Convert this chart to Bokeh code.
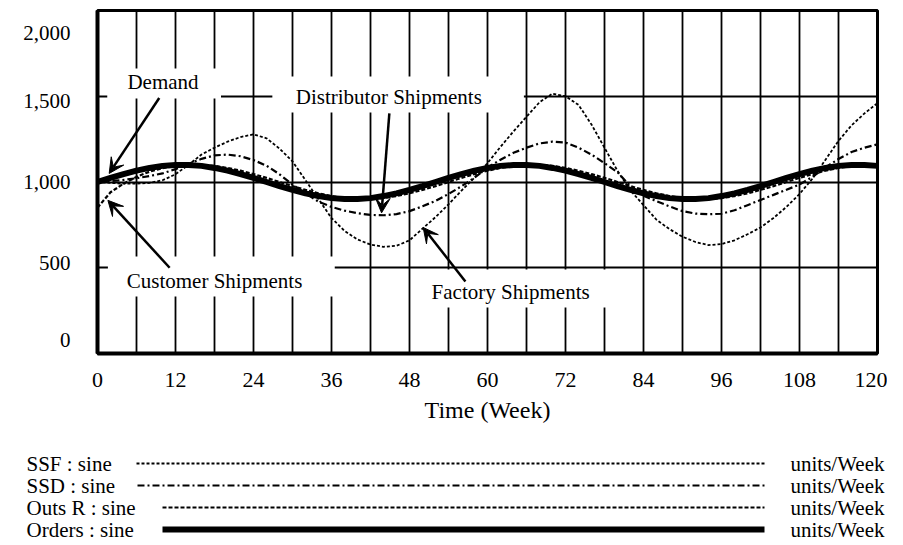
from bokeh.plotting import figure
from bokeh.models import FixedTicker, Range1d, Label, Arrow, VeeHead
from bokeh.embed import file_html
from bokeh.resources import INLINE
from bokeh.core.properties import value

# ---------------- data ----------------
weeks = [0, 2, 4, 6, 8, 10, 12, 14, 16, 18, 20, 22, 24, 26, 28, 30, 32, 34, 36, 38,
         40, 42, 44, 46, 48, 50, 52, 54, 56, 58, 60, 62, 64, 66, 68, 70, 72, 74, 76, 78,
         80, 82, 84, 86, 88, 90, 92, 94, 96, 98, 100, 102, 104, 106, 108, 110, 112, 114, 116, 118, 120]

# Orders : sine  (Demand)
orders = [1000, 1024, 1046, 1066, 1082, 1094, 1099, 1099, 1094, 1082, 1066, 1046, 1024, 1000, 976, 954,
          934, 918, 906, 901, 901, 906, 918, 934, 954, 976, 1000, 1024, 1046, 1066, 1082, 1094,
          1099, 1099, 1094, 1082, 1066, 1046, 1024, 1000, 976, 954, 934, 918, 906, 901, 901, 906,
          918, 934, 954, 976, 1000, 1024, 1046, 1066, 1082, 1094, 1099, 1099, 1094]

# Outs R : sine  (Customer Shipments)
outs_r = [850, 940, 990, 1030, 1060, 1080, 1094, 1099, 1099, 1094, 1082, 1066, 1046, 1024, 1000, 976,
          954, 934, 918, 906, 901, 901, 906, 918, 934, 954, 976, 1000, 1024, 1046, 1066, 1082,
          1094, 1099, 1099, 1094, 1082, 1066, 1046, 1024, 1000, 976, 954, 934, 918, 906, 901, 901,
          906, 918, 934, 954, 976, 1000, 1024, 1046, 1066, 1082, 1094, 1099, 1099]

# SSD : sine  (Distributor Shipments)
ssd = [1000, 1005, 1012, 1022, 1035, 1050, 1075, 1105, 1135, 1155, 1160, 1150, 1128, 1095, 1045, 985,
       935, 885, 855, 833, 818, 808, 806, 813, 830, 858, 890, 930, 975, 1025, 1085, 1130,
       1170, 1200, 1225, 1235, 1230, 1200, 1160, 1110, 1057, 975, 920, 888, 858, 830, 816, 812,
       815, 835, 865, 895, 925, 955, 985, 1030, 1085, 1134, 1175, 1200, 1220]

# SSF : sine  (Factory Shipments)
ssf = [1000, 995, 990, 990, 995, 1010, 1045, 1100, 1160, 1200, 1235, 1262, 1278, 1255, 1195, 1120,
       1010, 900, 790, 715, 665, 635, 622, 628, 660, 728, 795, 870, 950, 1025, 1110, 1205,
       1295, 1380, 1465, 1515, 1500, 1450, 1335, 1200, 1065, 950, 865, 780, 725, 681, 650, 632,
       638, 660, 695, 735, 790, 855, 930, 1020, 1130, 1240, 1330, 1400, 1460]

x_ticks = [0, 12, 24, 36, 48, 60, 72, 84, 96, 108, 120]
x_grid = [0, 6, 12, 18, 24, 30, 36, 42, 48, 54, 60, 66, 72, 78, 84, 90, 96, 102, 108, 114, 120]
y_grid = [0, 500, 1000, 1500, 2000]
y_tick_labels = ["0", "500", "1,000", "1,500", "2,000"]
# the original software spreads its value labels a little inside the frame
y_label_anchor = [80, 525, 1000, 1475, 1870]

legend_names = ["SSF : sine", "SSD : sine", "Outs R : sine", "Orders : sine"]
legend_units = "units/Week"

SERIF = "Liberation Serif"
W = 887

# ---------------- main chart ----------------
p = figure(frame_width=780, frame_height=343,
           min_border_left=97, min_border_right=10, min_border_top=10, min_border_bottom=86,
           x_range=Range1d(0, 120), y_range=Range1d(0, 2000),
           output_backend="svg", toolbar_location=None,
           background_fill_color="white", border_fill_color="white",
           outline_line_color="black", outline_line_width=3)

p.xgrid.ticker = FixedTicker(ticks=x_grid)
p.ygrid.ticker = FixedTicker(ticks=y_grid)
for g in (p.xgrid, p.ygrid):
    g.grid_line_color = "black"
    g.grid_line_width = 1.8
    g.grid_line_alpha = 1.0

p.xaxis.ticker = FixedTicker(ticks=x_ticks)
p.yaxis.ticker = FixedTicker(ticks=y_label_anchor)
p.yaxis.major_label_overrides = {a: l for a, l in zip(y_label_anchor, y_tick_labels)}

for ax in (p.xaxis, p.yaxis):
    ax.axis_line_color = "black"
    ax.axis_line_width = 4
    ax.major_tick_in = 0
    ax.major_tick_out = 0
    ax.minor_tick_in = 0
    ax.minor_tick_out = 0
    ax.major_label_text_font = SERIF
    ax.major_label_text_color = "black"

p.yaxis.major_label_text_font_size = "21px"
p.xaxis.major_label_text_font_size = "22px"
p.yaxis.major_label_standoff = 27
p.xaxis.major_label_standoff = 19
p.xaxis.axis_label = "Time (Week)"
p.xaxis.axis_label_text_font = SERIF
p.xaxis.axis_label_text_font_style = "normal"
p.xaxis.axis_label_text_font_size = "24px"
p.xaxis.axis_label_text_color = "black"
p.xaxis.axis_label_standoff = 7

# white boxes behind the annotation texts (they hide the grid)
box_left = [1.5, 26.9, 1.6, 48.8]
box_right = [19.0, 65.6, 36.5, 78.8]
box_bottom = [1487, 1405, 332, 268]
box_top = [1662, 1615, 566, 490]
p.quad(left=box_left, right=box_right, bottom=box_bottom, top=box_top,
       fill_color="white", line_color=None)

# series
p.line(weeks, ssf, line_color="black", line_width=1.8, line_dash="3 2")
p.line(weeks, ssd, line_color="black", line_width=2.2, line_dash="7 3 2 3")
p.line(weeks, outs_r, line_color="black", line_width=2.2, line_dash="4 2")
p.line(weeks, orders, line_color="black", line_width=6)

# annotation texts
ann_text = ["Demand", "Distributor Shipments", "Customer Shipments", "Factory Shipments"]
ann_x = [4.6, 30.5, 4.5, 51.4]
ann_y = [1586, 1493, 420, 356]
for t, x, y in zip(ann_text, ann_x, ann_y):
    p.add_layout(Label(x=x, y=y, text=t, text_font=SERIF, text_font_size="21px",
                       text_baseline="middle", text_align="left", text_color="black"))

# arrows
arr_x0 = [9.5, 44.9, 11.1, 56.6]
arr_y0 = [1490, 1400, 500, 420]
arr_x1 = [1.8, 43.7, 1.6, 50.1]
arr_y1 = [1050, 820, 893, 735]
for x0, y0, x1, y1 in zip(arr_x0, arr_y0, arr_x1, arr_y1):
    p.add_layout(Arrow(end=VeeHead(size=15, fill_color="black", line_color="black", line_width=1),
                       x_start=x0, y_start=y0, x_end=x1, y_end=y1,
                       line_color="black", line_width=2.5))

# ---------------- legend strip (its own root, pixel-like coordinates) ----------------
Q_H = 104
q = figure(width=W, height=Q_H, min_border=0,
           x_range=Range1d(0, W), y_range=Range1d(Q_H, 0),
           output_backend="svg", toolbar_location=None,
           outline_line_color=None, background_fill_color="white", border_fill_color="white")
q.axis.visible = False
q.grid.visible = False

row_y = [24, 46, 68, 90]
line_x0 = [136, 137, 162, 162]
line_x1 = 764
styles = [dict(line_width=1.8, line_dash="3 2"),
          dict(line_width=2.2, line_dash="7 3 2 3"),
          dict(line_width=2.2, line_dash="4 2"),
          dict(line_width=6, line_dash="solid")]
q.text(x=[26] * 4, y=row_y, text=legend_names, text_font=value(SERIF),
       text_font_size="21px", text_baseline="middle", text_align="left", text_color="black")
q.text(x=[790] * 4, y=row_y, text=[legend_units] * 4, text_font=value(SERIF),
       text_font_size="21px", text_baseline="middle", text_align="left", text_color="black")
for y, x0, st in zip(row_y, line_x0, styles):
    q.line([x0, line_x1], [y, y], line_color="black", **st)

open("out.html", "w").write(file_html([p, q], INLINE))
